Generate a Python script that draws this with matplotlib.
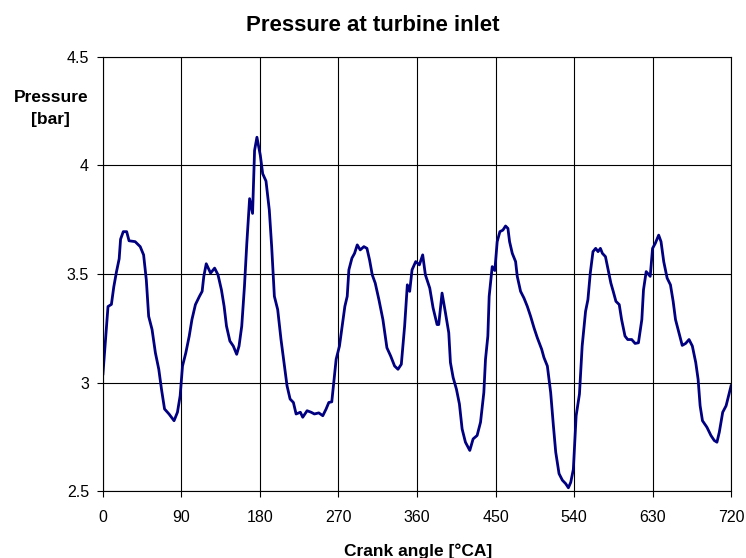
import matplotlib.pyplot as plt
from matplotlib.ticker import FuncFormatter

plt.rcParams['font.family'] = ['Liberation Sans', 'DejaVu Sans']

# crank angle [deg] and pressure [bar]
angle = [
    0, 5.8, 9.7, 12.4, 15.5, 18.6, 20.2, 23.3, 27.2, 29.9, 36.9, 42.7, 46.6,
    49.7, 52.4, 56.3, 60.1, 64, 67.1, 70.6, 75.7, 81.5, 85.4, 88.5, 91.2, 95,
    98.9, 102, 106, 110.6, 113.7, 115.6, 118.4, 123.4, 128, 131.9, 135.8,
    138.9, 141.6, 145.5, 149.4, 153.3, 156, 159.1, 162.2, 164.9, 168.1, 171.5,
    173.8, 176.5, 180.4, 183.1, 186.9, 190.7, 193.4, 196.5, 200.3, 204.1, 208,
    211, 214.5, 218.3, 221.4, 226.3, 229, 234, 238.6, 242.4, 247.4, 252,
    255.8, 258.9, 262.3, 264.6, 267.3, 271.1, 274.2, 277.3, 280, 281.9, 285.4,
    288.4, 291.5, 294.9, 299.1, 302.6, 305.6, 308.7, 312.1, 316.3, 320.9,
    325.5, 329.8, 334.3, 338.2, 342, 345.8, 348.9, 351.6, 354.3, 358.5, 362.7,
    366.5, 369.6, 374.6, 378.4, 383, 384.9, 388.7, 392.6, 396.4, 398.3, 401.4,
    405.2, 408.6, 411.7, 415.5, 420.5, 424.3, 428.9, 432.8, 436.6, 438.5,
    441.2, 442.7, 446.2, 449.2, 451.9, 455, 458.4, 461.5, 464.2, 466.1, 469.2,
    473, 474.9, 478.7, 482.6, 486.4, 490.2, 494.1, 497.9, 502.9, 505.5, 509.4,
    513.2, 516.3, 519, 522.8, 526.6, 530.4, 533.5, 536.2, 539.2, 542.4, 546.2,
    549.3, 553.2, 555.9, 558.6, 561.7, 564.8, 567.5, 570.2, 572.5, 576, 579.1,
    582.2, 584.9, 588, 591.8, 594.5, 598.4, 601.5, 606.1, 610, 613.8, 617.7,
    619.6, 622.7, 627.3, 630, 633.1, 637, 639.7, 642.8, 646.7, 650.5, 653.6,
    656.3, 660.2, 664, 667.9, 671.8, 675.6, 679.5, 682.2, 684.5, 687.2, 692.3,
    696.9, 700.7, 703.8, 706.5, 710.4, 714.3, 720,
]
pressure = [
    3.04, 3.35, 3.36, 3.44, 3.51, 3.57, 3.66, 3.695, 3.695, 3.653, 3.649,
    3.626, 3.588, 3.473, 3.305, 3.244, 3.137, 3.061, 2.969, 2.878, 2.855,
    2.824, 2.863, 2.939, 3.076, 3.137, 3.214, 3.29, 3.359, 3.397, 3.42, 3.489,
    3.547, 3.504, 3.527, 3.496, 3.427, 3.351, 3.26, 3.191, 3.168, 3.13, 3.168,
    3.26, 3.443, 3.641, 3.847, 3.779, 4.069, 4.13, 4.046, 3.962, 3.928, 3.794,
    3.626, 3.397, 3.336, 3.198, 3.076, 2.985, 2.924, 2.908, 2.855, 2.863,
    2.84, 2.87, 2.863, 2.855, 2.86, 2.847, 2.878, 2.908, 2.911, 3.0, 3.107,
    3.168, 3.26, 3.351, 3.397, 3.519, 3.573, 3.595, 3.634, 3.611, 3.626,
    3.618, 3.565, 3.496, 3.458, 3.382, 3.29, 3.16, 3.122, 3.076, 3.061, 3.084,
    3.26, 3.45, 3.42, 3.519, 3.557, 3.542, 3.588, 3.496, 3.435, 3.344, 3.267,
    3.267, 3.412, 3.321, 3.229, 3.092, 3.023, 2.969, 2.901, 2.786, 2.725,
    2.687, 2.74, 2.756, 2.817, 2.954, 3.107, 3.214, 3.397, 3.534, 3.516,
    3.649, 3.695, 3.702, 3.721, 3.71, 3.649, 3.595, 3.557, 3.489, 3.42, 3.389,
    3.351, 3.305, 3.252, 3.206, 3.153, 3.115, 3.076, 2.954, 2.802, 2.679,
    2.58, 2.55, 2.534, 2.515, 2.54, 2.6, 2.847, 2.947, 3.168, 3.328, 3.382,
    3.504, 3.603, 3.618, 3.603, 3.618, 3.595, 3.58, 3.519, 3.458, 3.42, 3.374,
    3.359, 3.29, 3.214, 3.198, 3.198, 3.18, 3.183, 3.29, 3.427, 3.511, 3.489,
    3.618, 3.641, 3.679, 3.649, 3.557, 3.481, 3.45, 3.374, 3.29, 3.229, 3.171,
    3.18, 3.198, 3.168, 3.092, 3.015, 2.893, 2.824, 2.794, 2.756, 2.733,
    2.725, 2.771, 2.863, 2.893, 2.985,
]

x_ticks = [0, 90, 180, 270, 360, 450, 540, 630, 720]
y_ticks = [2.5, 3, 3.5, 4, 4.5]

fig = plt.figure(figsize=(7.46, 5.58), dpi=100)
ax = fig.add_axes([0.138, 0.120, 0.842, 0.778])

ax.plot(angle, pressure, color='#000080', linewidth=2.0)

ax.set_xlim(0, 720)
ax.set_ylim(2.5, 4.5)
ax.set_xticks(x_ticks)
ax.set_yticks(y_ticks)
ax.yaxis.set_major_formatter(FuncFormatter(lambda v, _: f"{v:g}"))
ax.grid(True, color='black', linewidth=0.8)
ax.tick_params(direction='out', length=4, width=0.8, labelsize=11.5, colors='black')
ax.tick_params(axis='x', pad=10)
ax.tick_params(axis='y', pad=6)
for s in ax.spines.values():
    s.set_color('black')
    s.set_linewidth(0.8)

fig.text(0.5, 0.955, 'Pressure at turbine inlet', ha='center', va='center',
         fontsize=16, fontweight='bold')
fig.text(0.068, 0.806, 'Pressure\n[bar]', ha='center', va='center',
         fontsize=12.5, fontweight='bold', linespacing=1.6)
fig.text(0.56, 0.004, 'Crank angle [°CA]', ha='center', va='baseline',
         fontsize=12.5, fontweight='bold')

fig.savefig('out.png', dpi=100)
